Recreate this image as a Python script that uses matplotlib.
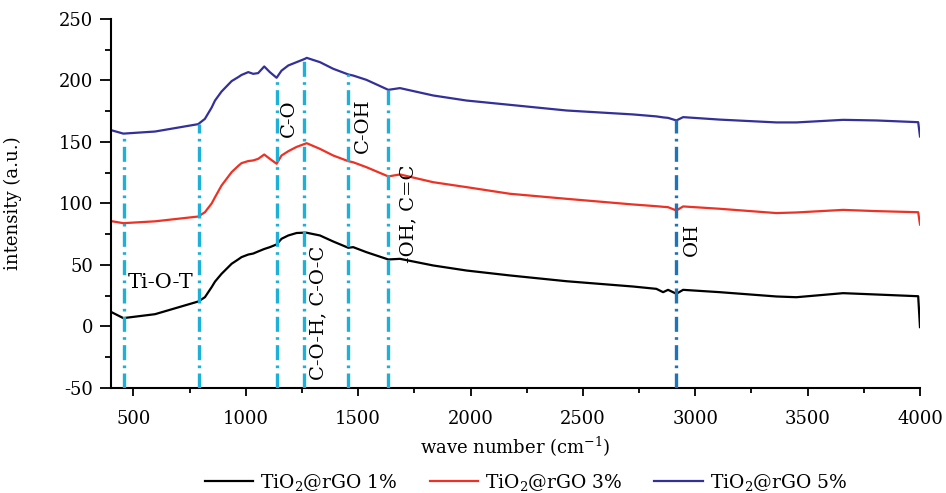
import numpy as np
import matplotlib
matplotlib.use("Agg")
import matplotlib.pyplot as plt
from matplotlib.ticker import MultipleLocator

plt.rcParams['font.family'] = ['DejaVu Serif']
plt.rcParams['mathtext.fontset'] = 'dejavuserif'
plt.rcParams['axes.unicode_minus'] = False

wavenumber = [403, 455, 596, 788, 818, 848, 863, 892, 937, 966, 981, 1011, 1033, 1055,
              1082, 1107, 1137, 1159, 1189, 1226, 1263, 1271, 1330, 1389, 1456, 1478,
              1537, 1634, 1686, 1834, 1982, 2175, 2427, 2723, 2827, 2857, 2879, 2916,
              2946, 3109, 3361, 3450, 3658, 3806, 3992, 4000]

rgo_1 = [11.6, 6.8, 10.0, 20.3, 23.8, 32.0, 36.5, 42.8, 51.0, 54.5, 56.4, 58.5, 59.3, 61.0,
         63.0, 64.5, 66.7, 71.3, 74.0, 76.0, 76.3, 76.2, 74.0, 69.1, 64.0, 64.5,
         60.4, 54.5, 55.0, 49.6, 45.5, 41.5, 36.8, 32.5, 30.6, 27.9, 29.8, 26.6,
         29.8, 27.9, 24.4, 23.8, 27.1, 26.0, 24.6, -0.5]

rgo_3 = [85.6, 84.0, 85.5, 89.4, 92.9, 100.0, 105.1, 114.6, 125.5, 130.5, 132.8, 134.5, 135.0, 136.3,
         139.8, 136.3, 132.3, 139.0, 142.5, 146.0, 148.5, 149.0, 144.4, 139.0, 134.4, 133.5,
         129.5, 122.0, 123.6, 117.3, 113.3, 107.9, 103.8, 99.2, 97.8, 97.3, 97.0, 94.3,
         97.6, 95.7, 92.2, 92.7, 94.8, 93.8, 92.9, 82.9]

rgo_5 = [159.5, 156.8, 158.5, 164.5, 168.8, 178.0, 183.7, 191.0, 199.5, 202.7, 204.5, 206.8, 205.4, 206.0,
         211.4, 206.8, 202.2, 208.0, 212.2, 214.9, 217.6, 218.4, 214.9, 209.5, 204.9, 204.0,
         200.5, 192.4, 193.8, 187.8, 183.7, 180.2, 175.6, 172.4, 170.8, 170.0, 169.6, 167.5,
         170.2, 168.2, 165.9, 165.9, 168.0, 167.5, 166.1, 154.5]

series_labels = [r'TiO$_2$@rGO 1%', r'TiO$_2$@rGO 3%', r'TiO$_2$@rGO 5%']
series_colors = ['#000000', '#ee3124', '#33309a']

band_positions = [458, 791, 1140, 1260, 1456, 1634, 2916]
band_colors = ['#1cb1d9'] * 6 + ['#1c75b9']

band_labels = ['Ti-O-T', 'C-O', 'C-O-H, C-O-C', 'C-OH', '-OH, C=C', 'OH']
label_x = [476, 1190, 1325, 1522, 1722, 2987]
label_y = [36, 169, 11, 163, 92, 71]
label_rot = [0, 90, 90, 90, 90, 90]

fig = plt.figure(figsize=(9.46, 4.93), dpi=100)
ax = fig.add_axes([0.1173, 0.213, 0.8552, 0.7485])

for vals, lab, col in zip([rgo_1, rgo_3, rgo_5], series_labels, series_colors):
    ax.plot(wavenumber, vals, color=col, lw=1.6, label=lab, zorder=2)

tops = np.interp(band_positions, wavenumber, rgo_5)
for xb, top, c in zip(band_positions, tops, band_colors):
    ax.plot([xb, xb], [-50, top], color=c, lw=2.4, dashes=(4.5, 1.6, 0.8, 1.6), zorder=3)

for t, x, y, r in zip(band_labels, label_x, label_y, label_rot):
    if r == 0:
        ax.text(x, y, t, ha='left', va='center', fontsize=15, rotation=0, zorder=4)
    else:
        ax.text(x, y, t, ha='center', va='center', fontsize=14, rotation=r, zorder=4)

ax.set_xlim(400, 4000)
ax.set_ylim(-50, 250)
ax.xaxis.set_major_locator(MultipleLocator(500))
ax.xaxis.set_minor_locator(MultipleLocator(250))
ax.yaxis.set_major_locator(MultipleLocator(50))
ax.yaxis.set_minor_locator(MultipleLocator(25))
ax.spines['top'].set_visible(False)
ax.spines['right'].set_visible(False)
ax.spines['left'].set_linewidth(1.5)
ax.spines['bottom'].set_linewidth(1.5)
ax.tick_params(axis='x', which='major', direction='out', length=6, width=1.3, labelsize=13, pad=10)
ax.tick_params(axis='x', which='minor', direction='out', length=3.5, width=1.3)
ax.tick_params(axis='y', which='major', direction='out', length=8, width=1.3, labelsize=13, pad=5)
ax.tick_params(axis='y', which='minor', direction='out', length=4, width=1.3)

ax.set_xlabel('wave number (cm$^{-1}$)', fontsize=13, labelpad=5)
ax.set_ylabel('intensity (a.u.)', fontsize=13)
ax.yaxis.set_label_coords(-0.110, 0.5)

fig.legend(loc='center', bbox_to_anchor=(0.556, 0.022), ncol=3, frameon=False,
           fontsize=13.5, handlelength=2.6, columnspacing=1.7, handletextpad=0.35)

fig.savefig('out.png', dpi=100)
